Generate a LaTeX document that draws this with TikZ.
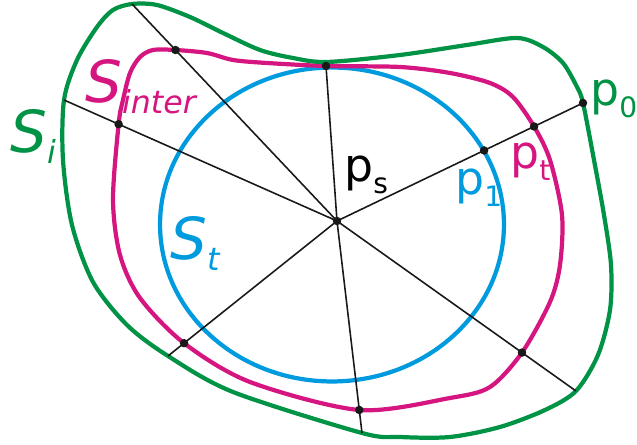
\documentclass[tikz,border=0pt]{standalone}
\usepackage{fontspec}
\setmainfont{DejaVu Sans}
\usetikzlibrary{calc}
\definecolor{surfgreen}{RGB}{0,146,69}
\definecolor{surfmagenta}{RGB}{214,22,128}
\definecolor{surfblue}{RGB}{0,155,222}
\newcommand{\surfS}[1]{{\fontsize{33}{33}\selectfont\itshape S}\raisebox{-0.22cm}{\fontsize{18}{18}\selectfont\itshape #1}}
\newcommand{\ptp}[1]{{\fontsize{26}{26}\selectfont p}\raisebox{-0.24cm}{\fontsize{16}{16}\selectfont #1}}
\tikzset{
    curve/.style={line width=2.4pt},
    ray/.style={line width=0.9pt, black!90},
    dot/.style={fill=black!90},
    lab/.style={inner sep=0pt, anchor=base west},
}
\begin{document}
\begin{tikzpicture}[x=0.02cm,y=-0.02cm]
    \useasboundingbox (0,0) rectangle (637,445);
    % Centre and ray ends
    \coordinate (ps) at (337,221);
    \coordinate (gA) at (132,4);
    \coordinate (gB) at (64,100);
    \coordinate (mC) at (326,66);
    \coordinate (gD) at (583,103);
    \coordinate (gE) at (576,391);
    \coordinate (gF) at (168,356);
    \coordinate (gG) at (362,433);
    % Points on S_inter
    \coordinate (mA) at ($(ps)!0.788!(gA)$);
    \coordinate (mB) at ($(ps)!0.80!(gB)$);
    \coordinate (p1) at ($(ps)!0.598!(gD)$);
    \coordinate (pt) at ($(ps)!0.801!(gD)$);
    \coordinate (mE) at ($(ps)!0.774!(gE)$);
    \coordinate (mF) at ($(ps)!0.905!(gF)$);
    \coordinate (mG) at ($(ps)!0.8915!(gG)$);
    % Surfaces
    \draw[curve, surfblue] (332,224.5) ellipse [x radius=3.44cm, y radius=3.14cm];
    \draw[curve, surfmagenta] plot[smooth cycle] coordinates {(mA) (207,53) (233,60) (267,63) (mC) (400,67) (450,73) (490,83) (513,97) (pt) (550,160) (562,215) (560,265) (550,302) (mE) (490,387) (450,398) (mG) (250,382) (mF) (140,298) (120,255) (113,200) (mB) (123,100) (130,73) (140,57) (153,50)};
    \draw[curve, surfgreen] plot[smooth cycle] coordinates {(gA) (157,5) (190,17) (223,33) (260,50) (293,58) (327,62) (400,55) (467,45) (517,38) (543,47) (563,63) (577,87) (gD) (594,160) (604,215) (611,265) (610,310) (598,355) (gE) (545,410) (500,427) (450,437) (400,437) (gG) (233,392) (gF) (127,325) (93,282) (72,225) (63,160) (gB) (77,60) (97,27) (113,10)};
    % Rays
    \foreach \e in {gA,gB,mC,gD,gE,gF,gG}
        \draw[ray] (ps) -- (\e);
    \foreach \d in {ps,mA,mB,mC,p1,pt,gD,mE,mF,mG}
        \fill[dot] (\d) circle [radius=0.085cm];
    % Labels
    \node[lab, surfgreen] (si) at (10,153) {\surfS{i}};
    \node[lab, surfmagenta] (sinter) at (85,103) {\surfS{inter}};
    \node[lab, surfblue] (st) at (170,260) {\surfS{t}};
    \node[lab] (lps) at (344,182) {\ptp{s}};
    \node[lab, surfblue] (lp1) at (455,195) {\ptp{1}};
    \node[lab, surfmagenta] (lpt) at (510,169) {\ptp{t}};
    \node[lab, surfgreen] (lp0) at (590,106) {\ptp{0}};
\end{tikzpicture}
\end{document}
